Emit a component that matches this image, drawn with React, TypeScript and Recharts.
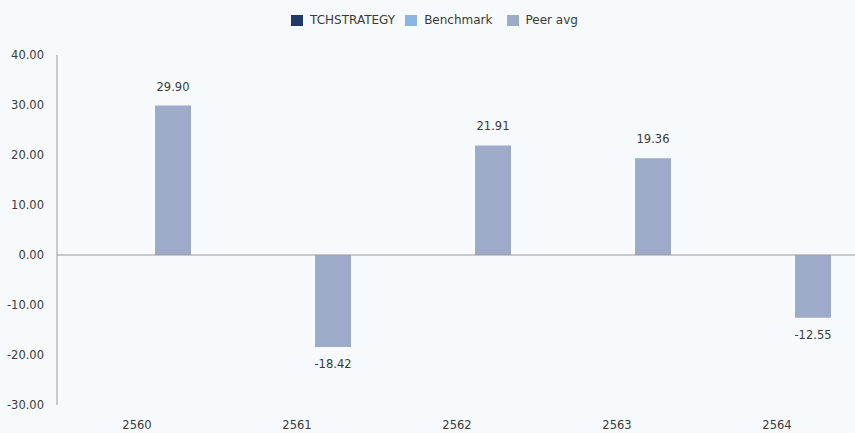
import React from 'react';
import { BarChart, Bar, XAxis, YAxis, ReferenceLine, LabelList } from 'recharts';

const categories = ['2560', '2561', '2562', '2563', '2564'];
const tchStrategy: (number | null)[] = [null, null, null, null, null];
const benchmark: (number | null)[] = [null, null, null, null, null];
const peerAvg: (number | null)[] = [29.9, -18.42, 21.91, 19.36, -12.55];
const yTicks = [-30, -20, -10, 0, 10, 20, 30, 40];
const seriesNames = ['TCHSTRATEGY', 'Benchmark', 'Peer avg'];
const seriesKeys = ['tch', 'bench', 'peer'];
const seriesColors = ['#1f3a64', '#8db4e2', '#9dabc8'];

const data = categories.map((c, i) => ({
  year: c,
  tch: tchStrategy[i],
  bench: benchmark[i],
  peer: peerAvg[i],
}));

const FONT = "'DejaVu Sans', Verdana, sans-serif";
const TEXT = '#3a3a3a';

const renderLabel = (props: any) => {
  const { x, y, width, height, value } = props;
  if (value === null || value === undefined) return null;
  const top = Math.min(y, y + height);
  const bottom = Math.max(y, y + height);
  const cx = x + width / 2;
  const ty = value >= 0 ? top - 15 : bottom + 21;
  return (
    <text x={cx} y={ty} textAnchor="middle" fontSize={11.5} fontFamily={FONT} fill={TEXT}>
      {Number(value).toFixed(2)}
    </text>
  );
};

export default function App() {
  return (
    <div style={{ position: 'relative', width: 855, height: 433, overflow: 'hidden', background: '#f7fafd' }}>
      <style>{'body{margin:0;}'}</style>
      <div
        style={{
          position: 'absolute',
          top: 12,
          left: 0,
          width: 855,
          display: 'flex',
          justifyContent: 'center',
          paddingLeft: 14,
          boxSizing: 'border-box',
          fontFamily: FONT,
          fontSize: 12,
          color: TEXT,
          lineHeight: '16px',
        }}
      >
        {seriesNames.map((n, i) => (
          <div key={n} style={{ display: 'flex', alignItems: 'center', marginRight: i === 0 ? 10 : i === 1 ? 14 : 0 }}>
            <span style={{ display: 'inline-block', width: 12, height: 11, background: seriesColors[i], marginRight: 7 }} />
            <span>{n}</span>
          </div>
        ))}
      </div>
      <BarChart
        width={857}
        height={433}
        data={data}
        margin={{ top: 55, right: 0, bottom: 0, left: 0 }}
        barCategoryGap={26}
        barGap={0}
      >
        <XAxis
          dataKey="year"
          height={28}
          axisLine={false}
          tickLine={false}
          tickSize={14}
          tickMargin={2}
          tick={{ fontSize: 11.5, fontFamily: FONT, fill: TEXT }}
        />
        <YAxis
          width={57}
          domain={[-30, 40]}
          ticks={yTicks}
          interval={0}
          tickFormatter={(v: number) => v.toFixed(2)}
          axisLine={{ stroke: '#999' }}
          tickLine={false}
          tickSize={11}
          tickMargin={2}
          tick={{ fontSize: 11.5, fontFamily: FONT, fill: TEXT }}
        />
        <ReferenceLine y={0} stroke="#999" />
        {seriesKeys.map((k, i) => (
          <Bar key={k} dataKey={k} name={seriesNames[i]} fill={seriesColors[i]} isAnimationActive={false}>
            {k === 'peer' ? <LabelList dataKey={k} content={renderLabel} /> : null}
          </Bar>
        ))}
      </BarChart>
    </div>
  );
}
